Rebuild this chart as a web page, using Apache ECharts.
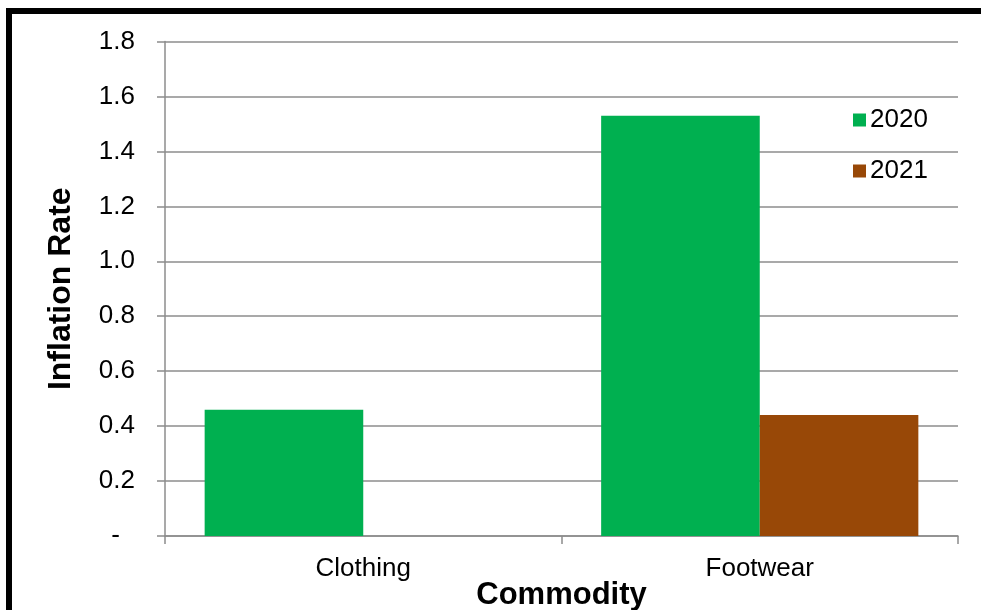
<!DOCTYPE html>
<html>
<head>
<meta charset="utf-8">
<script src="https://cdn.jsdelivr.net/npm/echarts@6/dist/echarts.min.js"></script>
<style>html,body{margin:0;padding:0;background:#fff;}#c{width:981px;height:610px;}</style>
</head>
<body>
<div id="c"></div>
<script>
const categories = ['Clothing', 'Footwear'];
const values2020 = [0.46, 1.53];
const values2021 = [0, 0.44];
const seriesNames = ['2020', '2021'];
const yTicks = { min: 0, max: 1.8, step: 0.2 };

const chart = echarts.init(document.getElementById('c'), null, { renderer: 'canvas' });
const axisGray = '#8c8c8c';
const font = 'Liberation Sans, Arial, sans-serif';
chart.setOption({
  animation: false,
  backgroundColor: '#ffffff',
  textStyle: { fontFamily: font },
  graphic: [{
    type: 'rect', silent: true, z: 100,
    shape: { x: 9, y: 11, width: 1000, height: 700 },
    style: { fill: 'none', stroke: '#000', lineWidth: 6 }
  }],
  grid: { left: 165, right: 23, top: 41.5, bottom: 74, containLabel: false, outerBoundsMode: 'none' },
  legend: {
    orient: 'vertical', left: 848, top: 102, itemWidth: 13, itemHeight: 13, itemGap: 25,
    icon: 'rect', textStyle: { fontSize: 26, color: '#000', fontFamily: font, padding: [0, 0, 0, -1] },
    data: seriesNames
  },
  xAxis: {
    type: 'category', data: categories,
    name: 'Commodity', nameLocation: 'middle', nameGap: 44, nameMoveOverlap: false,
    nameTextStyle: { fontSize: 31, fontWeight: 'bold', color: '#000', fontFamily: font },
    axisLine: { lineStyle: { color: axisGray, width: 1.5 } },
    axisTick: { show: true, length: 8, lineStyle: { color: axisGray, width: 1.5 } },
    axisLabel: { fontSize: 26, color: '#000', margin: 20, fontFamily: font }
  },
  yAxis: {
    type: 'value', min: yTicks.min, max: yTicks.max, interval: yTicks.step,
    name: 'Inflation Rate', nameLocation: 'middle', nameGap: 88, nameRotate: 90, nameMoveOverlap: false,
    nameTextStyle: { fontSize: 32, fontWeight: 'bold', color: '#000', fontFamily: font },
    axisLine: { show: true, lineStyle: { color: axisGray, width: 1.5 } },
    axisTick: { show: true, length: 8, lineStyle: { color: axisGray, width: 1.5 } },
    splitLine: { show: true, lineStyle: { color: axisGray, width: 1.5 } },
    axisLabel: {
      fontSize: 26, color: '#000', margin: 30, fontFamily: font,
      formatter: function (v) { return Math.abs(v) < 1e-9 ? '{d|-}' : v.toFixed(1); },
      rich: { d: { fontSize: 26, color: '#000', padding: [0, 15, 0, 0], fontFamily: font } }
    }
  },
  series: [
    { name: seriesNames[0], type: 'bar', data: values2020, barGap: '0%', barCategoryGap: '20%', itemStyle: { color: '#00B050' } },
    { name: seriesNames[1], type: 'bar', data: values2021, barGap: '0%', barCategoryGap: '20%', itemStyle: { color: '#984807' } }
  ]
});
</script>
</body>
</html>
